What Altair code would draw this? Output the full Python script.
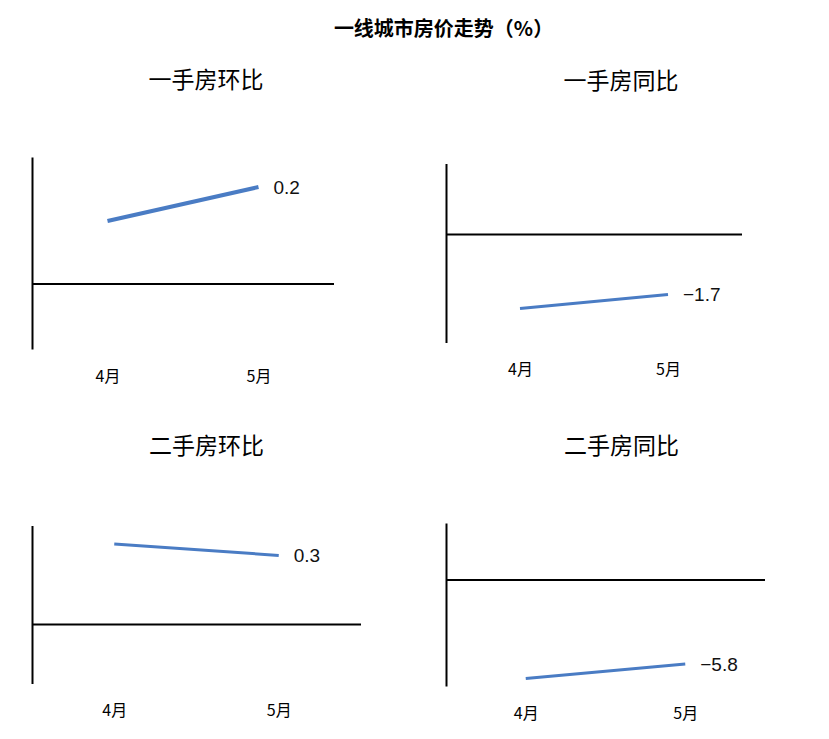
import altair as alt
import pandas as pd

months = ["4月", "5月"]
yishou_huanbi = [0.13, 0.2]
yishou_tongbi = [-2.1, -1.7]
ershou_huanbi = [0.35, 0.3]
ershou_tongbi = [-6.8, -5.8]

titles = ["一手房环比", "一手房同比", "二手房环比", "二手房同比"]
main_title = "一线城市房价走势（%）"

FONT = "Noto Sans CJK SC"
NUM_FONT = "Liberation Sans"
BLUE = "#4a7cc4"


def panel(title, vals, ydom, w, h, tdx, toff, sw):
    df = pd.DataFrame({"month": months, "value": vals})
    zdf = pd.DataFrame({"value": [0.0]})
    x = alt.X(
        "month:O",
        sort=months,
        scale=alt.Scale(type="point", padding=0.5),
        axis=alt.Axis(title=None, domain=False, ticks=False, tickSize=0,
                      labelPadding=19, labelAngle=0, labelFontSize=16,
                      labelColor="#000", labelFont=FONT),
    )
    y = alt.Y(
        "value:Q",
        scale=alt.Scale(domain=ydom, nice=False, zero=False),
        axis=alt.Axis(title=None, labels=False, ticks=False, grid=False,
                      domain=True, domainColor="#000", domainWidth=2),
    )
    zero = alt.Chart(zdf).mark_rule(color="#000", strokeWidth=2).encode(y=y)
    line = alt.Chart(df).mark_line(color=BLUE, strokeWidth=sw).encode(x=x, y=y)
    label = (
        alt.Chart(df)
        .transform_filter(alt.datum.month == months[1])
        .mark_text(align="left", baseline="middle", dx=15, dy=1, fontSize=19,
                   font=NUM_FONT, color="#111")
        .encode(x=x, y=y, text=alt.Text("value:Q", format=".1f"))
    )
    return alt.layer(zero, line, label).properties(
        width=w,
        height=h,
        title=alt.Title(title, fontSize=23, font=FONT, fontWeight="normal",
                        color="#000", anchor="middle", dx=tdx, offset=toff),
    )


p1 = panel(titles[0], yishou_huanbi, [-0.134, 0.262], 302, 192, 23, 64, 4)
p2 = panel(titles[1], yishou_tongbi, [-3.06, 2.01], 296, 179, 27, 70, 3)
p3 = panel(titles[2], ershou_huanbi, [-0.257, 0.43], 329, 158, 10, 67, 3)
p4 = panel(titles[3], ershou_tongbi, [-7.32, 3.94], 319, 163, 16, 64, 3)

chart = (
    alt.vconcat(
        alt.concat(p1, p2, columns=2, spacing=112, align="all", bounds="flush",
                   center={"row": True, "column": False}),
        alt.concat(p3, p4, columns=2, spacing=85, align="all", bounds="flush",
                   center={"row": True, "column": False}),
        spacing=51,
    )
    .properties(
        title=alt.Title(main_title, fontSize=20, font=FONT, fontWeight="bold",
                        color="#000", anchor="middle", dx=45, offset=30),
        padding={"left": 31, "top": 20, "right": 0, "bottom": 5},
        background="white",
    )
    .configure_view(stroke=None)
)

chart.save("out.html", embed_options={"renderer": "svg", "actions": False})
